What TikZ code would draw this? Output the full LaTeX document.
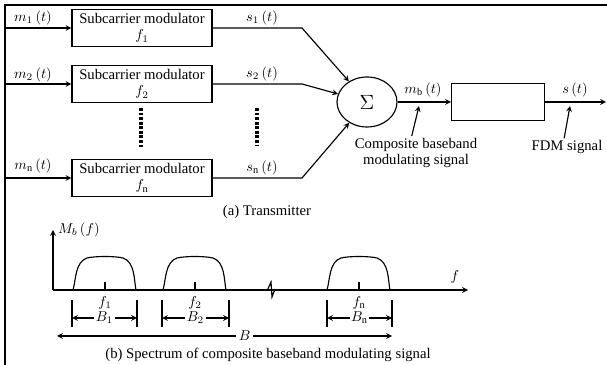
\documentclass[tikz,border=0pt]{standalone}
\usepackage{fontspec}
\setmainfont{Liberation Serif}
\usetikzlibrary{shapes.geometric}

\begin{document}
\begin{tikzpicture}[x=0.7pt, y=-0.7pt, >=stealth, line width=0.8pt,
  font=\fontsize{10.3}{11.5}\selectfont,
  modbox/.style={draw, minimum width=98pt, minimum height=26pt, align=center, inner sep=1pt},
  lbl/.style={inner sep=1pt},
  vdots/.style={line width=2.5pt, dash pattern=on 2pt off 1.2pt}]
\useasboundingbox (0,0) rectangle (607,365);
% page edge
\draw[line width=1.2pt] (5,365) -- (5,5) -- (607,5);

% transmitter
\node[modbox] (m1) at (142,28) {Subcarrier modulator\\$f_1$};
\node[modbox] (m2) at (142,84) {Subcarrier modulator\\$f_2$};
\node[modbox] (mn) at (142,178) {Subcarrier modulator\\$f_\mathrm{n}$};
\coordinate (in1) at (5,28);
\coordinate (in2) at (5,84);
\coordinate (inn) at (5,178);
\draw[->] (in1) -- (m1);
\draw[->] (in2) -- (m2);
\draw[->] (inn) -- (mn);
\node[lbl] (lm1) at (33,18) {$m_1\,(t)$};
\node[lbl] (lm2) at (33,75) {$m_2\,(t)$};
\node[lbl] (lmn) at (33,166) {$m_\mathrm{n}\,(t)$};

\node[draw, ellipse, minimum width=42pt, minimum height=35pt] (sum) at (367,102) {\Large$\Sigma$};
\coordinate (b1) at (302,28);
\coordinate (b2) at (302,84);
\coordinate (bn) at (302,178);
\draw[->] (m1) -- (b1) -- (sum);
\draw[->] (m2) -- (b2) -- (sum);
\draw[->] (mn) -- (bn) -- (sum);
\node[lbl] (ls1) at (262,18) {$s_1\,(t)$};
\node[lbl] (ls2) at (262,74) {$s_2\,(t)$};
\node[lbl] (lsn) at (262,168) {$s_\mathrm{n}\,(t)$};

\draw[vdots] (141,108) -- (141,148);
\draw[vdots] (257,108) -- (257,146);

\node[draw, minimum width=65pt, minimum height=26pt] (fdm) at (498,102) {};
\coordinate (out) at (606,102);
\draw[->] (sum) -- (fdm);
\draw[->] (fdm) -- (out);
\node[lbl] (lmb) at (423,90) {$m_\mathrm{b}\,(t)$};
\node[lbl] (lst) at (575,90) {$s\,(t)$};

\node[lbl, align=center] (comp) at (416,153) {Composite baseband\\modulating signal};
\coordinate (mbpt) at (419,106);
\draw[->] ([xshift=-3pt]comp.north) -- (mbpt);
\node[lbl] (fdmsig) at (567,147) {FDM signal};
\coordinate (fdmpt) at (570,106);
\draw[->] ([xshift=-2pt]fdmsig.north) -- (fdmpt);

\node[lbl] (capa) at (267,212) {(a) Transmitter};

% spectrum
\coordinate (o) at (53,290);
\coordinate (ytop) at (53,230);
\coordinate (xend) at (468,290);
\draw[->] (o) -- (ytop);
\draw[->] (o) -- (xend);
\node[lbl, anchor=west] (lM) at (56,230) {$M_b\,(f)$};
\node[lbl] (lf) at (455,277) {$f$};
\draw[line width=0.8pt] (267,291) -- (271,282) -- (272,297) -- (275,289);

\foreach \c/\k/\lo/\hi in {105/1/72/137, 195/2/162/229, 359/\mathrm{n}/327/392}{
  \draw (\c-32,290) .. controls (\c-29,280) and (\c-30,262) .. (\c-18,258)
        .. controls (\c-10,256) and (\c+10,256) .. (\c+18,258)
        .. controls (\c+30,262) and (\c+29,280) .. (\c+31,290);
  \draw (\c,282) -- (\c,290);
  \node[lbl] at (\c,303) {$f_{\k}$};
  \draw (\lo,300) -- (\lo,327);
  \draw (\hi,300) -- (\hi,327);
  \draw[<->] (\lo,318) -- node[fill=white, inner sep=1pt] {$B_{\k}$} (\hi,318);
}
\draw[<->] (57,336) -- node[pos=0.56, fill=white, inner sep=2pt] {$B$} (392,336);

\node[lbl] (capb) at (268,355) {(b) Spectrum of composite baseband modulating signal};
\end{tikzpicture}
\end{document}
